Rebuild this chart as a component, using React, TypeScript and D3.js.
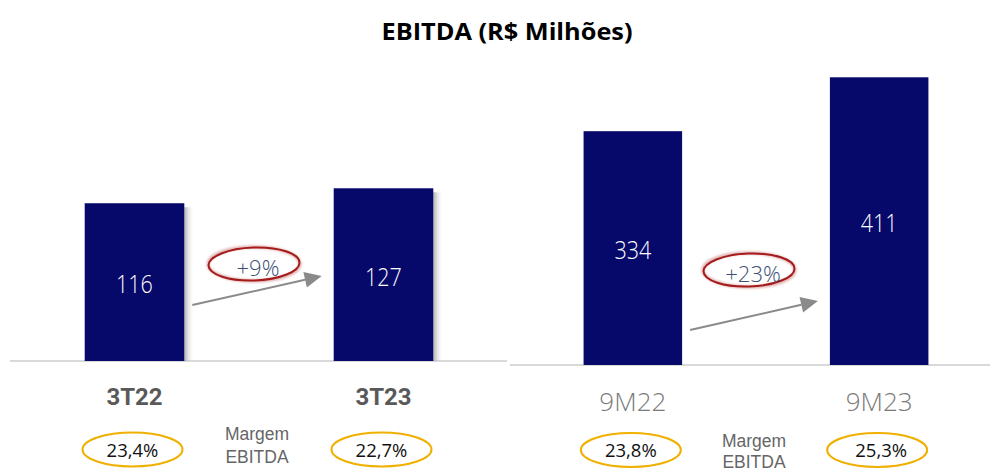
import React from "react";
import * as d3 from "d3";

const title = "EBITDA (R$ Milhões)";
const quarterPeriods = ["3T22", "3T23"];
const quarterValues = [116, 127];
const quarterMargins = ["23,4%", "22,7%"];
const quarterGrowth = "+9%";
const ytdPeriods = ["9M22", "9M23"];
const ytdValues = [334, 411];
const ytdMargins = ["23,8%", "25,3%"];
const ytdGrowth = "+23%";
const marginLabel = ["Margem", "EBITDA"];

const W = 990;
const H = 473;
const NAVY = "#06086a";
const RED = "#a51b1b";
const GOLD = "#f0b000";

type PanelCfg = {
  periods: string[];
  values: number[];
  margins: string[];
  growth: string;
  xRange: [number, number];
  baseY: number;
  yMax: number;
  yTop: number;
  lineX: [number, number];
  catBold: boolean;
  catY: number;
  arrowY: [number, number];
  ovalY: number;
  ovalDx: number;
  marginTextY: number;
  marginGap: number;
  pillY: number;
  shadow: boolean;
};

const panels: PanelCfg[] = [
  {
    periods: quarterPeriods,
    values: quarterValues,
    margins: quarterMargins,
    growth: quarterGrowth,
    xRange: [10, 508],
    baseY: 361,
    yMax: 130,
    yTop: 184.2,
    lineX: [10, 507],
    catBold: true,
    catY: 405,
    arrowY: [305, 276],
    ovalY: 264,
    ovalDx: -5,
    marginTextY: 440,
    marginGap: 23,
    pillY: 449.5,
    shadow: true,
  },
  {
    periods: ytdPeriods,
    values: ytdValues,
    margins: ytdMargins,
    growth: ytdGrowth,
    xRange: [522, 990],
    baseY: 365,
    yMax: 420,
    yTop: 71,
    lineX: [510, 990],
    catBold: false,
    catY: 411,
    arrowY: [330, 301],
    ovalY: 270,
    ovalDx: -7,
    marginTextY: 447,
    marginGap: 21,
    pillY: 450,
    shadow: false,
  },
];

function Panel({ p, idx }: { p: PanelCfg; idx: number }) {
  const x = d3
    .scaleBand<string>()
    .domain(p.periods)
    .range(p.xRange)
    .paddingInner(0.6)
    .paddingOuter(idx === 0 ? 0.3 : 0.25);
  const y = d3.scaleLinear().domain([0, p.yMax]).range([p.baseY, p.yTop]);
  const bw = x.bandwidth();
  const c0 = (x(p.periods[0]) as number) + bw / 2;
  const c1 = (x(p.periods[1]) as number) + bw / 2;
  const mid = (c0 + c1) / 2;
  const ax0 = (x(p.periods[0]) as number) + bw + 8;
  const ax1 = (x(p.periods[1]) as number) - 12;
  const [ay0, ay1] = p.arrowY;
  const ang = Math.atan2(ay1 - ay0, ax1 - ax0);
  const headL = 17;
  const headW = 8;
  const bx = ax1 - headL * Math.cos(ang);
  const by = ay1 - headL * Math.sin(ang);
  const nx = -Math.sin(ang);
  const ny = Math.cos(ang);
  const head = `M${ax1},${ay1} L${bx + nx * headW},${by + ny * headW} L${bx - nx * headW},${by - ny * headW} Z`;
  const ox = mid + p.ovalDx;

  return (
    <g>
      <line
        x1={p.lineX[0]}
        x2={p.lineX[1]}
        y1={p.baseY}
        y2={p.baseY}
        stroke="#d9d9d9"
        strokeWidth={2}
      />
      {p.periods.map((d, i) => {
        const x0 = x(d) as number;
        const yt = y(p.values[i]);
        return (
          <g key={d}>
            {p.shadow && (
              <rect
                x={x0 + bw}
                y={yt + 4}
                width={10}
                height={p.baseY - yt - 4}
                fill="url(#shadowGrad)"
              />
            )}
            <rect x={x0} y={yt} width={bw} height={p.baseY - yt} fill={NAVY} />
            <text
              x={x0 + bw / 2}
              y={(yt + p.baseY) / 2 + 11}
              textAnchor="middle"
              fill="#ffffff"
              fontFamily="'Open Sans', sans-serif"
              fontWeight={300}
              fontSize={25}
              transform={`translate(${x0 + bw / 2},0) scale(0.86,1) translate(${-(x0 + bw / 2)},0)`}
            >
              {p.values[i]}
            </text>
            <text
              x={x0 + bw / 2}
              y={p.catY}
              textAnchor="middle"
              fill={p.catBold ? "#595959" : "#7a7a7a"}
              fontFamily={p.catBold ? "Roboto, sans-serif" : "'Open Sans', sans-serif"}
              fontWeight={p.catBold ? 700 : 300}
              fontSize={p.catBold ? 24 : 26}
            >
              {d}
            </text>
            <ellipse
              cx={x0 + bw / 2 - 2}
              cy={p.pillY}
              rx={50}
              ry={17}
              fill="none"
              stroke={GOLD}
              strokeWidth={2}
            />
            <text
              x={x0 + bw / 2 - 2 + (idx === 1 && i === 1 ? 4 : 0)}
              y={p.pillY + 7}
              textAnchor="middle"
              fill="#111111"
              fontFamily="'Open Sans', sans-serif"
              fontSize={18.5}
            >
              {p.margins[i]}
            </text>
          </g>
        );
      })}
      <line
        x1={ax0}
        y1={ay0}
        x2={bx}
        y2={by}
        stroke="#8a8a8a"
        strokeWidth={2}
      />
      <path d={head} fill="#8a8a8a" />
      <ellipse
        cx={ox}
        cy={p.ovalY}
        rx={46}
        ry={17}
        fill="none"
        stroke={RED}
        strokeWidth={3}
        opacity={0.35}
        filter="url(#blur)"
      />
      <ellipse
        cx={ox}
        cy={p.ovalY}
        rx={45.5}
        ry={16.5}
        fill="none"
        stroke={RED}
        strokeWidth={2}
        transform={`rotate(-2 ${ox} ${p.ovalY})`}
      />
      <text
        x={ox + 4}
        y={p.ovalY + 12}
        textAnchor="middle"
        fill="#3b4f75"
        fontFamily="'Open Sans', sans-serif"
        fontWeight={300}
        fontSize={22}
      >
        {p.growth}
      </text>
      {marginLabel.map((t, k) => (
        <text
          key={t}
          x={mid - 2}
          y={p.marginTextY + k * p.marginGap}
          textAnchor="middle"
          fill="#666666"
          fontFamily="'Liberation Sans', Arial, sans-serif"
          fontSize={17.5}
        >
          {t}
        </text>
      ))}
    </g>
  );
}

export default function App() {
  return (
    <svg
      width={W}
      height={H}
      style={{ position: "absolute", left: 0, top: 0, background: "#ffffff" }}
    >
      <defs>
        <linearGradient id="shadowGrad" x1="0" x2="1" y1="0" y2="0">
          <stop offset="0" stopColor="#9a9a9a" stopOpacity={0.8} />
          <stop offset="1" stopColor="#ffffff" stopOpacity={0} />
        </linearGradient>
        <filter id="blur" x="-20%" y="-40%" width="140%" height="180%">
          <feGaussianBlur stdDeviation={1} />
        </filter>
      </defs>
      <rect width={W} height={H} fill="#ffffff" />
      <text
        x={507}
        y={40}
        textAnchor="middle"
        fontFamily="'Open Sans', sans-serif"
        fontWeight={700}
        fontSize={23}
        fill="#000000"
        textLength={251}
        lengthAdjust="spacingAndGlyphs"
      >
        {title}
      </text>
      {panels.map((p, i) => (
        <Panel key={i} p={p} idx={i} />
      ))}
    </svg>
  );
}
